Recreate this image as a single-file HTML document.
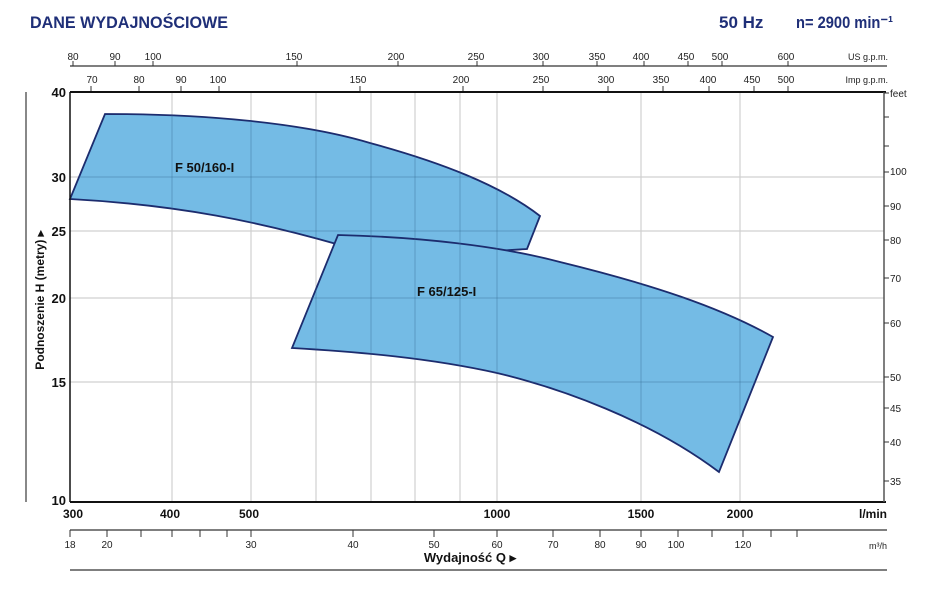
<!DOCTYPE html>
<html><head><meta charset="utf-8"><style>
body{margin:0;background:#fff;}
svg{display:block;font-family:"Liberation Sans",sans-serif;}
</style></head><body>
<svg width="927" height="590" viewBox="0 0 927 590" xmlns="http://www.w3.org/2000/svg">
<text x="30" y="28" font-size="17" font-weight="bold" fill="#1f2f78" textLength="198" lengthAdjust="spacingAndGlyphs">DANE WYDAJNOŚCIOWE</text>
<text x="719" y="28" font-size="17" font-weight="bold" fill="#1f2f78">50 Hz</text>
<text x="796" y="28" font-size="17" font-weight="bold" fill="#1f2f78" textLength="97" lengthAdjust="spacingAndGlyphs">n= 2900 min⁻¹</text>

<!-- US gpm axis -->
<g font-size="10" fill="#222" text-anchor="middle">
<line x1="70" y1="66" x2="887" y2="66" stroke="#555" stroke-width="1.5"/>
<g stroke="#333" stroke-width="1">
<line x1="73" y1="66" x2="73" y2="61"/><line x1="115" y1="66" x2="115" y2="61"/><line x1="153" y1="66" x2="153" y2="61"/><line x1="297" y1="66" x2="297" y2="61"/><line x1="398" y1="66" x2="398" y2="61"/><line x1="477" y1="66" x2="477" y2="61"/><line x1="543" y1="66" x2="543" y2="61"/><line x1="597" y1="66" x2="597" y2="61"/><line x1="644" y1="66" x2="644" y2="61"/><line x1="688" y1="66" x2="688" y2="61"/><line x1="722" y1="66" x2="722" y2="61"/><line x1="788" y1="66" x2="788" y2="61"/>
</g>
<text x="73" y="60">80</text><text x="115" y="60">90</text><text x="153" y="60">100</text><text x="294" y="60">150</text><text x="396" y="60">200</text><text x="476" y="60">250</text><text x="541" y="60">300</text><text x="597" y="60">350</text><text x="641" y="60">400</text><text x="686" y="60">450</text><text x="720" y="60">500</text><text x="786" y="60">600</text>
<text x="888" y="60" text-anchor="end" font-size="9">US g.p.m.</text>
<!-- Imp -->
<g stroke="#333" stroke-width="1">
<line x1="91" y1="92" x2="91" y2="86"/><line x1="139" y1="92" x2="139" y2="86"/><line x1="181" y1="92" x2="181" y2="86"/><line x1="219" y1="92" x2="219" y2="86"/><line x1="360" y1="92" x2="360" y2="86"/><line x1="463" y1="92" x2="463" y2="86"/><line x1="543" y1="92" x2="543" y2="86"/><line x1="608" y1="92" x2="608" y2="86"/><line x1="663" y1="92" x2="663" y2="86"/><line x1="709" y1="92" x2="709" y2="86"/><line x1="754" y1="92" x2="754" y2="86"/><line x1="788" y1="92" x2="788" y2="86"/>
</g>
<text x="92" y="83">70</text><text x="139" y="83">80</text><text x="181" y="83">90</text><text x="218" y="83">100</text><text x="358" y="83">150</text><text x="461" y="83">200</text><text x="541" y="83">250</text><text x="606" y="83">300</text><text x="661" y="83">350</text><text x="708" y="83">400</text><text x="752" y="83">450</text><text x="786" y="83">500</text>
<text x="888" y="83" text-anchor="end" font-size="9">Imp g.p.m.</text>
</g>

<!-- grid -->
<g stroke="#d0d0d0" stroke-width="1.2">
<line x1="172" y1="92" x2="172" y2="502"/><line x1="251" y1="92" x2="251" y2="502"/><line x1="316" y1="92" x2="316" y2="502"/><line x1="371" y1="92" x2="371" y2="502"/><line x1="415" y1="92" x2="415" y2="502"/><line x1="460" y1="92" x2="460" y2="502"/><line x1="497" y1="92" x2="497" y2="502"/><line x1="641" y1="92" x2="641" y2="502"/><line x1="740" y1="92" x2="740" y2="502"/>
<line x1="70" y1="177" x2="884" y2="177"/><line x1="70" y1="231" x2="884" y2="231"/><line x1="70" y1="298" x2="884" y2="298"/><line x1="70" y1="382" x2="884" y2="382"/>
</g>

<!-- curves -->
<g fill="#74bbe5" stroke="#1c2c6e" stroke-width="1.8" stroke-linejoin="miter">
<path d="M70,199 L105,114 C200,114 300,122 370,143 C440,162 500,185 540,216 L527,249 C480,252 400,258 340,245 C260,222 180,205 70,199 Z"/>
<path d="M338,235 C420,237 500,246 560,262 C650,284 720,307 773,337 L719,472 C650,420 560,388 497,373 C430,358 360,352 292,348 Z"/>
</g>
<!-- grid overlay inside -->
<g stroke="#3a6f99" stroke-opacity="0.35" stroke-width="1.2">
<clipPath id="c"><path d="M70,199 L105,114 C200,114 300,122 370,143 C440,162 500,185 540,216 L527,249 C480,252 400,258 340,245 C260,222 180,205 70,199 Z M338,235 C420,237 500,246 560,262 C650,284 720,307 773,337 L719,472 C650,420 560,388 497,373 C430,358 360,352 292,348 Z"/></clipPath>
<g clip-path="url(#c)">
<line x1="172" y1="92" x2="172" y2="502"/><line x1="251" y1="92" x2="251" y2="502"/><line x1="316" y1="92" x2="316" y2="502"/><line x1="371" y1="92" x2="371" y2="502"/><line x1="415" y1="92" x2="415" y2="502"/><line x1="460" y1="92" x2="460" y2="502"/><line x1="497" y1="92" x2="497" y2="502"/><line x1="641" y1="92" x2="641" y2="502"/><line x1="740" y1="92" x2="740" y2="502"/>
<line x1="70" y1="177" x2="884" y2="177"/><line x1="70" y1="231" x2="884" y2="231"/><line x1="70" y1="298" x2="884" y2="298"/><line x1="70" y1="382" x2="884" y2="382"/>
</g></g>
<text x="175" y="172" font-size="13" font-weight="bold" fill="#111">F 50/160-I</text>
<text x="417" y="296" font-size="13" font-weight="bold" fill="#111">F 65/125-I</text>

<!-- frame -->
<line x1="70" y1="92" x2="886" y2="92" stroke="#111" stroke-width="2"/>
<line x1="70" y1="502" x2="886" y2="502" stroke="#111" stroke-width="2"/>
<line x1="70" y1="92" x2="70" y2="502" stroke="#111" stroke-width="1.5"/>
<line x1="884" y1="92" x2="884" y2="502" stroke="#555" stroke-width="1.5"/>
<line x1="26" y1="92" x2="26" y2="502" stroke="#111" stroke-width="1"/>

<!-- left labels -->
<g font-size="13" font-weight="bold" fill="#111" text-anchor="end">
<text x="66" y="97">40</text><text x="66" y="182">30</text><text x="66" y="236">25</text><text x="66" y="303">20</text><text x="66" y="387">15</text><text x="66" y="505">10</text>
</g>
<text transform="translate(44,300) rotate(-90)" font-size="12" font-weight="bold" fill="#111" text-anchor="middle">Podnoszenie H  (metry)  ▸</text>

<!-- right feet -->
<g stroke="#333" stroke-width="1">
<line x1="884" y1="93" x2="889" y2="93"/><line x1="884" y1="117" x2="889" y2="117"/><line x1="884" y1="146" x2="889" y2="146"/><line x1="884" y1="172" x2="889" y2="172"/><line x1="884" y1="206" x2="889" y2="206"/><line x1="884" y1="240" x2="889" y2="240"/><line x1="884" y1="278" x2="889" y2="278"/><line x1="884" y1="323" x2="889" y2="323"/><line x1="884" y1="377" x2="889" y2="377"/><line x1="884" y1="408" x2="889" y2="408"/><line x1="884" y1="442" x2="889" y2="442"/><line x1="884" y1="481" x2="889" y2="481"/>
</g>
<g font-size="10" fill="#222">
<text x="890" y="97">feet</text><text x="890" y="175">100</text><text x="890" y="210">90</text><text x="890" y="244">80</text><text x="890" y="282">70</text><text x="890" y="327">60</text><text x="890" y="381">50</text><text x="890" y="412">45</text><text x="890" y="446">40</text><text x="890" y="485">35</text>
</g>

<!-- l/min -->
<g font-size="12" font-weight="bold" fill="#111" text-anchor="middle">
<text x="73" y="518">300</text><text x="170" y="518">400</text><text x="249" y="518">500</text><text x="497" y="518">1000</text><text x="641" y="518">1500</text><text x="740" y="518">2000</text>
<text x="887" y="518" text-anchor="end">l/min</text>
</g>

<!-- m3/h -->
<line x1="70" y1="530" x2="887" y2="530" stroke="#555" stroke-width="1.5"/>
<g stroke="#333" stroke-width="1">
<line x1="70" y1="530" x2="70" y2="537"/><line x1="107" y1="530" x2="107" y2="537"/><line x1="141" y1="530" x2="141" y2="537"/><line x1="172" y1="530" x2="172" y2="537"/><line x1="200" y1="530" x2="200" y2="537"/><line x1="227" y1="530" x2="227" y2="537"/><line x1="251" y1="530" x2="251" y2="537"/><line x1="353" y1="530" x2="353" y2="537"/><line x1="434" y1="530" x2="434" y2="537"/><line x1="497" y1="530" x2="497" y2="537"/><line x1="553" y1="530" x2="553" y2="537"/><line x1="600" y1="530" x2="600" y2="537"/><line x1="641" y1="530" x2="641" y2="537"/><line x1="678" y1="530" x2="678" y2="537"/><line x1="712" y1="530" x2="712" y2="537"/><line x1="743" y1="530" x2="743" y2="537"/><line x1="771" y1="530" x2="771" y2="537"/><line x1="797" y1="530" x2="797" y2="537"/>
</g>
<g font-size="10" fill="#222" text-anchor="middle">
<text x="70" y="548">18</text><text x="107" y="548">20</text><text x="251" y="548">30</text><text x="353" y="548">40</text><text x="434" y="548">50</text><text x="497" y="548">60</text><text x="553" y="548">70</text><text x="600" y="548">80</text><text x="641" y="548">90</text><text x="676" y="548">100</text><text x="743" y="548">120</text>
<text x="887" y="549" text-anchor="end" font-size="9">m³/h</text>
</g>
<text x="470" y="562" font-size="13" font-weight="bold" fill="#111" text-anchor="middle">Wydajność Q  ▸</text>
<line x1="70" y1="570" x2="887" y2="570" stroke="#555" stroke-width="1.5"/>
</svg>
</body></html>
